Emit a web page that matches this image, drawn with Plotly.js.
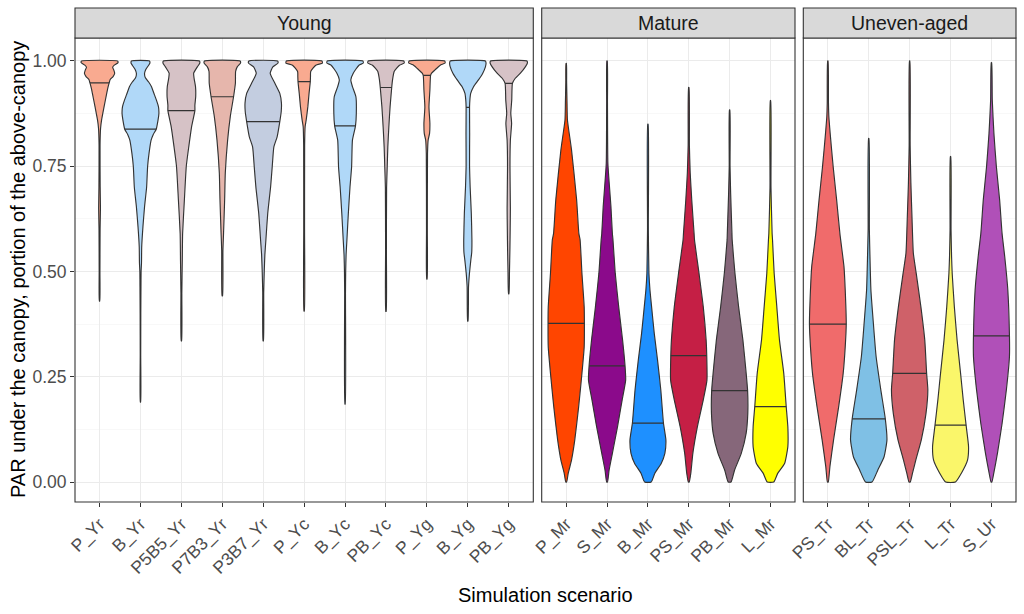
<!DOCTYPE html>
<html>
<head>
<meta charset="utf-8">
<script src="https://cdn.plot.ly/plotly-3.0.1.min.js"></script>
<style>html,body{margin:0;padding:0;background:#fff}#chart{width:1024px;height:614px}</style>
</head>
<body>
<div id="chart"></div>
<script>
// ---------------- data ----------------
const facetNames = ["Young", "Mature", "Uneven-aged"];

const youngCats = ["P_Yr","B_Yr","P5B5_Yr","P7B3_Yr","P3B7_Yr","P_Yc","B_Yc","PB_Yc","P_Yg","B_Yg","PB_Yg"];
const youngColors = ["#F9AA90","#B0D8F8","#D6C2C6","#E6B6AC","#C3CDE0","#F9AA90","#B0D8F8","#D6C2C6","#F9AA90","#B0D8F8","#D6C2C6"];
const youngMedians = [0.948,0.838,0.882,0.915,0.856,0.951,0.846,0.937,0.966,0.890,0.947];
// density profiles: [PAR value, relative half-width]
const youngDensity = [
  [[1.0,0.44],[0.996,0.45],[0.99,0.36],[0.985,0.32],[0.978,0.35],[0.971,0.37],[0.963,0.33],[0.956,0.26],[0.948,0.235],[0.935,0.2],[0.923,0.175],[0.891,0.11],[0.86,0.05],[0.84,0.025],[0.8,0.012],[0.7,0.015],[0.65,0.022],[0.6,0.013],[0.5,0.009],[0.43,0.005]],
  [[1.0,0.22],[0.995,0.23],[0.99,0.2],[0.98,0.13],[0.971,0.1],[0.96,0.12],[0.95,0.2],[0.939,0.27],[0.92,0.34],[0.907,0.39],[0.891,0.44],[0.875,0.45],[0.86,0.43],[0.838,0.385],[0.825,0.31],[0.812,0.26],[0.781,0.21],[0.75,0.175],[0.7,0.15],[0.654,0.1],[0.606,0.06],[0.558,0.03],[0.52,0.025],[0.5,0.015],[0.464,0.012],[0.4,0.008],[0.3,0.006],[0.19,0.004]],
  [[1.0,0.44],[0.995,0.45],[0.986,0.39],[0.971,0.3],[0.959,0.31],[0.939,0.345],[0.915,0.35],[0.895,0.33],[0.882,0.33],[0.844,0.25],[0.796,0.18],[0.75,0.12],[0.67,0.073],[0.59,0.03],[0.527,0.022],[0.45,0.011],[0.335,0.005]],
  [[1.0,0.435],[0.995,0.445],[0.986,0.365],[0.975,0.325],[0.947,0.32],[0.915,0.275],[0.868,0.195],[0.812,0.13],[0.734,0.073],[0.67,0.057],[0.59,0.03],[0.55,0.015],[0.442,0.006]],
  [[1.0,0.35],[0.995,0.36],[0.986,0.235],[0.971,0.17],[0.947,0.285],[0.923,0.405],[0.9,0.445],[0.88,0.44],[0.856,0.405],[0.82,0.34],[0.796,0.26],[0.749,0.22],[0.701,0.18],[0.638,0.11],[0.575,0.065],[0.54,0.04],[0.5,0.025],[0.45,0.012],[0.335,0.005]],
  [[1.0,0.435],[0.995,0.445],[0.99,0.285],[0.975,0.16],[0.963,0.155],[0.951,0.15],[0.923,0.12],[0.891,0.09],[0.86,0.05],[0.844,0.024],[0.8,0.012],[0.6,0.01],[0.406,0.005]],
  [[1.0,0.435],[0.995,0.445],[0.99,0.34],[0.971,0.2],[0.955,0.14],[0.939,0.18],[0.915,0.265],[0.876,0.275],[0.846,0.255],[0.812,0.18],[0.749,0.16],[0.70,0.12],[0.638,0.08],[0.575,0.045],[0.54,0.025],[0.5,0.015],[0.45,0.01],[0.185,0.004]],
  [[1.0,0.435],[0.995,0.445],[0.99,0.33],[0.975,0.2],[0.955,0.16],[0.937,0.14],[0.891,0.1],[0.844,0.07],[0.796,0.045],[0.749,0.03],[0.7,0.015],[0.55,0.01],[0.405,0.005]],
  [[1.0,0.435],[0.995,0.445],[0.99,0.325],[0.979,0.2],[0.971,0.115],[0.966,0.09],[0.931,0.073],[0.891,0.05],[0.852,0.073],[0.828,0.065],[0.812,0.03],[0.78,0.015],[0.6,0.01],[0.482,0.005]],
  [[1.0,0.43],[0.995,0.445],[0.986,0.43],[0.971,0.365],[0.955,0.26],[0.939,0.14],[0.923,0.07],[0.907,0.05],[0.89,0.042],[0.828,0.045],[0.75,0.042],[0.70,0.057],[0.638,0.085],[0.575,0.1],[0.545,0.095],[0.527,0.073],[0.496,0.04],[0.464,0.017],[0.382,0.005]],
  [[1.0,0.445],[0.995,0.455],[0.986,0.405],[0.971,0.285],[0.959,0.16],[0.947,0.09],[0.907,0.073],[0.876,0.05],[0.852,0.07],[0.812,0.04],[0.749,0.03],[0.65,0.04],[0.6,0.035],[0.55,0.028],[0.5,0.018],[0.447,0.005]]
];

const matureCats = ["P_Mr","S_Mr","B_Mr","PS_Mr","PB_Mr","L_Mr"];
const matureColors = ["#FF4500","#8B0A8B","#1E90FF","#C51F45","#86677A","#FFFF00"];
const matureMedians = [0.377,0.276,0.140,0.300,0.217,0.179];
const matureDensity = [
  [[0.994,0.005],[0.95,0.01],[0.9,0.02],[0.86,0.03],[0.789,0.13],[0.67,0.255],[0.59,0.31],[0.575,0.34],[0.496,0.385],[0.416,0.44],[0.377,0.445],[0.321,0.44],[0.258,0.385],[0.179,0.305],[0.1,0.21],[0.052,0.13],[0.021,0.05],[0.0,0.01]],
  [[1.0,0.005],[0.9,0.01],[0.757,0.02],[0.7,0.06],[0.654,0.095],[0.59,0.13],[0.575,0.145],[0.496,0.2],[0.416,0.285],[0.337,0.38],[0.276,0.44],[0.242,0.455],[0.195,0.37],[0.131,0.255],[0.068,0.13],[0.028,0.05],[0.0,0.01]],
  [[0.85,0.005],[0.6,0.01],[0.496,0.025],[0.456,0.05],[0.416,0.09],[0.353,0.155],[0.29,0.235],[0.219,0.315],[0.14,0.38],[0.1,0.44],[0.068,0.415],[0.044,0.325],[0.021,0.17],[0.0,0.08]],
  [[0.937,0.005],[0.8,0.015],[0.734,0.035],[0.67,0.073],[0.59,0.13],[0.575,0.14],[0.496,0.25],[0.416,0.355],[0.337,0.425],[0.3,0.44],[0.242,0.445],[0.195,0.355],[0.131,0.21],[0.068,0.1],[0.021,0.05],[0.0,0.01]],
  [[0.884,0.005],[0.75,0.01],[0.686,0.025],[0.59,0.057],[0.575,0.062],[0.496,0.13],[0.416,0.22],[0.337,0.325],[0.258,0.405],[0.217,0.44],[0.163,0.445],[0.116,0.405],[0.068,0.285],[0.028,0.12],[0.0,0.035]],
  [[0.906,0.005],[0.7,0.012],[0.59,0.04],[0.575,0.05],[0.496,0.09],[0.416,0.155],[0.337,0.22],[0.258,0.325],[0.179,0.385],[0.131,0.425],[0.084,0.425],[0.044,0.345],[0.021,0.18],[0.0,0.08]]
];

const unevenCats = ["PS_Tr","BL_Tr","PSL_Tr","L_Tr","S_Ur"];
const unevenColors = ["#F06B6B","#7FC0E5","#CF6169","#FAF66A","#B050B8"];
const unevenMedians = [0.375,0.150,0.258,0.135,0.347];
const unevenDensity = [
  [[1.0,0.005],[0.9,0.015],[0.868,0.025],[0.828,0.057],[0.749,0.13],[0.67,0.215],[0.59,0.295],[0.511,0.395],[0.456,0.425],[0.375,0.45],[0.321,0.425],[0.258,0.375],[0.179,0.265],[0.1,0.14],[0.036,0.05],[0.0,0.01]],
  [[0.816,0.005],[0.6,0.015],[0.535,0.03],[0.456,0.053],[0.377,0.113],[0.298,0.18],[0.219,0.295],[0.15,0.405],[0.1,0.445],[0.06,0.375],[0.028,0.22],[0.0,0.08]],
  [[1.0,0.005],[0.8,0.012],[0.71,0.03],[0.63,0.057],[0.544,0.09],[0.496,0.16],[0.416,0.275],[0.337,0.37],[0.258,0.415],[0.219,0.445],[0.163,0.4],[0.1,0.285],[0.052,0.15],[0.021,0.07],[0.0,0.015]],
  [[0.773,0.005],[0.6,0.012],[0.535,0.025],[0.496,0.04],[0.416,0.093],[0.337,0.16],[0.258,0.245],[0.195,0.31],[0.135,0.38],[0.084,0.44],[0.052,0.415],[0.021,0.265],[0.0,0.12]],
  [[0.996,0.005],[0.907,0.02],[0.828,0.06],[0.749,0.12],[0.67,0.2],[0.59,0.26],[0.535,0.325],[0.456,0.4],[0.347,0.44],[0.298,0.44],[0.219,0.365],[0.139,0.26],[0.068,0.146],[0.021,0.057],[0.0,0.01]]
];

const yTickVals = [0, 0.25, 0.5, 0.75, 1.0];
const yTickText = ["0.00", "0.25", "0.50", "0.75", "1.00"];

// ---------------- build ----------------
const FONT = "Liberation Sans, Arial, Helvetica, sans-serif";
const OUTLINE = "#333333";

function widthAt(profile, v) {
  for (let i = 0; i < profile.length - 1; i++) {
    const a = profile[i], b = profile[i + 1];
    if (v <= a[0] && v >= b[0]) {
      const t = (a[0] - v) / (a[0] - b[0] || 1);
      return a[1] + t * (b[1] - a[1]);
    }
  }
  return 0;
}

const traces = [];
function addPanel(cats, colors, medians, density, xa, ya) {
  cats.forEach((c, i) => {
    const prof = density[i];
    const xs = [], ys = [];
    for (let k = prof.length - 1; k >= 0; k--) { xs.push(i + prof[k][1]); ys.push(prof[k][0]); }
    for (let k = 0; k < prof.length; k++) { xs.push(i - prof[k][1]); ys.push(prof[k][0]); }
    xs.push(xs[0]); ys.push(ys[0]);
    traces.push({
      type: "scatter", mode: "lines", x: xs, y: ys, xaxis: xa, yaxis: ya,
      fill: "toself", fillcolor: colors[i],
      line: { color: OUTLINE, width: 1.15, shape: "spline", smoothing: 0.5 },
      hoverinfo: "skip", showlegend: false
    });
    const w = widthAt(prof, medians[i]);
    traces.push({
      type: "scatter", mode: "lines", x: [i - w, i + w], y: [medians[i], medians[i]],
      xaxis: xa, yaxis: ya, line: { color: OUTLINE, width: 1.2 },
      hoverinfo: "skip", showlegend: false
    });
  });
}
addPanel(youngCats, youngColors, youngMedians, youngDensity, "x", "y");
addPanel(matureCats, matureColors, matureMedians, matureDensity, "x2", "y2");
addPanel(unevenCats, unevenColors, unevenMedians, unevenDensity, "x3", "y3");

const W = 1024, H = 614;
const mL = 75, mR = 8, mT = 38, mB = 112;
const pw = W - mL - mR, ph = H - mT - mB;
const dom = (a, b) => [(a - mL) / pw, (b - mL) / pw];

const yRange = [-0.0475, 1.0546];
function xAxis(cats, domain) {
  return {
    domain: domain, range: [-0.6, cats.length - 0.4],
    tickmode: "array", tickvals: cats.map((_, i) => i), ticktext: cats,
    tickangle: -45, ticks: "outside", ticklen: 4, tickcolor: "#333333", tickwidth: 1,
    tickfont: { family: FONT, size: 17.5, color: "#4D4D4D" },
    showgrid: true, gridcolor: "#EBEBEB", gridwidth: 1, zeroline: false, showline: false,
    fixedrange: true
  };
}
function yAxis(anchor, showLabels) {
  return {
    anchor: anchor, range: yRange, domain: [0, 1],
    tickmode: "array", tickvals: yTickVals, ticktext: yTickText,
    showticklabels: showLabels, ticks: showLabels ? "outside" : "", ticklen: 4,
    tickcolor: "#333333", tickwidth: 1,
    tickfont: { family: FONT, size: 17.5, color: "#4D4D4D" },
    showgrid: true, gridcolor: "#EBEBEB", gridwidth: 1, zeroline: false, showline: false,
    minor: { tickvals: [0.125, 0.375, 0.625, 0.875], showgrid: true, gridcolor: "#F4F4F4", gridwidth: 0.6, ticks: "" },
    fixedrange: true
  };
}

const xDoms = [dom(75, 533.3), dom(541.7, 795), dom(803.3, 1016)];
const stripTop = 1 + 30 / ph;
const shapes = [], annotations = [];
["x", "x2", "x3"].forEach((xa, k) => {
  const ya = ["y", "y2", "y3"][k];
  shapes.push({ type: "rect", xref: xa + " domain", yref: ya + " domain", x0: 0, x1: 1, y0: 0, y1: 1,
    line: { color: "#333333", width: 1.1 }, fillcolor: "rgba(0,0,0,0)", layer: "above" });
  shapes.push({ type: "rect", xref: xa + " domain", yref: ya + " domain", x0: 0, x1: 1, y0: 1, y1: stripTop,
    line: { color: "#333333", width: 1.1 }, fillcolor: "#D9D9D9", layer: "above" });
  annotations.push({ xref: xa + " domain", yref: ya + " domain", x: 0.5, y: (1 + stripTop) / 2,
    text: facetNames[k], showarrow: false, xanchor: "center", yanchor: "middle",
    font: { family: FONT, size: 19.5, color: "#1A1A1A" } });
});
annotations.push({ xref: "paper", yref: "paper", x: 0.5, y: -(595 - 502) / ph, text: "Simulation scenario",
  showarrow: false, xanchor: "center", yanchor: "middle", font: { family: FONT, size: 20, color: "#000" } });
annotations.push({ xref: "paper", yref: "paper", x: -(75 - 18) / pw, y: 0.5, textangle: -90,
  text: "PAR under the canopy, portion of the above-canopy",
  showarrow: false, xanchor: "center", yanchor: "middle", font: { family: FONT, size: 20, color: "#000" } });

const layout = {
  width: W, height: H, margin: { l: mL, r: mR, t: mT, b: mB, pad: 0 },
  paper_bgcolor: "#FFFFFF", plot_bgcolor: "#FFFFFF", showlegend: false,
  xaxis: xAxis(youngCats, xDoms[0]),
  xaxis2: xAxis(matureCats, xDoms[1]),
  xaxis3: xAxis(unevenCats, xDoms[2]),
  yaxis: yAxis("x", true),
  yaxis2: Object.assign(yAxis("x2", false), { matches: "y" }),
  yaxis3: Object.assign(yAxis("x3", false), { matches: "y" }),
  shapes: shapes, annotations: annotations
};
layout.xaxis.anchor = "y"; layout.xaxis2.anchor = "y2"; layout.xaxis3.anchor = "y3";

Plotly.newPlot("chart", traces, layout, { displayModeBar: false, staticPlot: true });
</script>
</body>
</html>
